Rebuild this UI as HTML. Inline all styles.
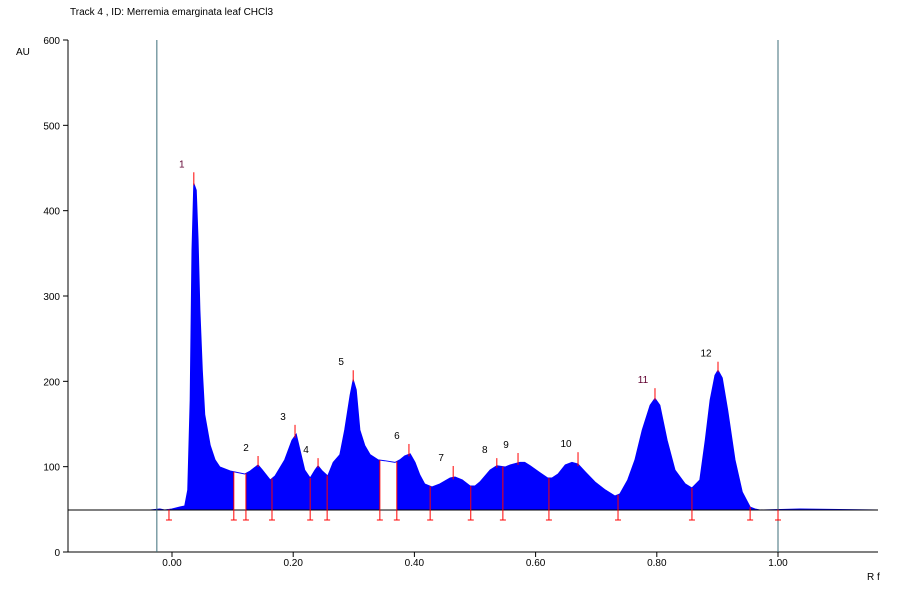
<!DOCTYPE html>
<html><head><meta charset="utf-8"><style>
body{margin:0;background:#fff;}
svg text{font-family:"Liberation Sans",sans-serif;font-size:10px;}
</style></head><body>
<svg id="c" width="907" height="590" xmlns="http://www.w3.org/2000/svg">
<text x="70" y="15">Track  4 , ID: Merremia emarginata leaf CHCl3</text>
<text x="16" y="55">AU</text>
<text x="867" y="580">R f</text>
<g id="g"></g>
</svg>
<script>
const traceRf=[-0.036,-0.020,-0.012,0,0.013,0.021,0.026,0.030,0.033,0.036,0.040,0.043,0.046,0.050,0.054,0.063,0.071,0.079,0.096,0.104,0.120,0.129,0.142,0.149,0.162,0.170,0.186,0.198,0.205,0.211,0.219,0.228,0.236,0.241,0.248,0.257,0.266,0.277,0.285,0.294,0.299,0.304,0.310,0.318,0.327,0.340,0.351,0.368,0.376,0.384,0.393,0.401,0.409,0.417,0.429,0.442,0.459,0.467,0.479,0.492,0.500,0.508,0.525,0.536,0.550,0.558,0.574,0.582,0.591,0.607,0.620,0.627,0.637,0.649,0.660,0.670,0.682,0.698,0.715,0.731,0.739,0.752,0.764,0.776,0.789,0.797,0.805,0.817,0.830,0.847,0.858,0.871,0.880,0.888,0.896,0.901,0.908,0.917,0.929,0.941,0.954,0.962,0.970,1.036,1.165];
const traceAU=[49.2,50.4,49.2,50.4,52.7,53.9,72.7,178,354,432,424,366,284,213,161,125,108,99.6,94.9,93.8,91.4,94.9,102,96.1,84.4,89.1,108,131,138,120,96.1,86.7,96.1,101,94.9,89.1,105,114,143,184,202,190,143,125,114,108,107,105,108,112.5,115,105,90.2,79.7,76.2,79.7,86.7,87.9,84.4,77.3,77.3,82,96.1,101,99.6,102,105,105,101,93,86.7,86.7,91.4,102,105,103,93.8,82,72.7,65.6,68,84.4,108,143,172,180,172,131,96.1,79.7,75,84.4,131,178,207,213,204,166,108,70.3,52.7,50.4,49.2,50.4,49.2];
const gapStart=[0.102,0.343];
const gapEnd=[0.122,0.371];
const peakRf=[0.036,0.142,0.203,0.241,0.299,0.391,0.464,0.536,0.571,0.670,0.797,0.901];
const peakAU=[445,112.5,149,110,213,126.6,100.8,110,116,117,192,223];
const peakLabels=["1","2","3","4","5","6","7","8","9","10","11","12"];
const boundRf=[-0.005,0.102,0.122,0.165,0.228,0.256,0.343,0.371,0.426,0.493,0.546,0.622,0.736,0.858,0.954,1.0];
const yTicks=[0,100,200,300,400,500,600];
const xTicks=[0,0.2,0.4,0.6,0.8,1.0];
const xTickLabels=["0.00","0.20","0.40","0.60","0.80","1.00"];
const baseAU=49.2;

const X=r=>172+r*606, Y=v=>552-v*512/600;
const g=document.getElementById('g'),NS="http://www.w3.org/2000/svg";
function mk(t,a){const e=document.createElementNS(NS,t);for(const k in a)e.setAttribute(k,a[k]);g.appendChild(e);return e;}
function interp(r){for(let i=1;i<traceRf.length;i++){if(traceRf[i]>=r){const t=(r-traceRf[i-1])/(traceRf[i]-traceRf[i-1]);return traceAU[i-1]+t*(traceAU[i]-traceAU[i-1]);}}return traceAU[traceAU.length-1];}
// fill
let d="M"+X(traceRf[0])+","+Y(baseAU);
traceRf.forEach((r,i)=>{d+=" L"+X(r)+","+Y(traceAU[i]);});
d+=" L"+X(traceRf[traceRf.length-1])+","+Y(baseAU)+"Z";
let f=mk('path',{d:d,fill:'#0000ff',stroke:'none'});


// gaps
gapStart.forEach((s,k)=>{const e=gapEnd[k];let p="M"+X(s)+","+Y(baseAU)+" L"+X(s)+","+Y(interp(s));
 traceRf.forEach((r,i)=>{if(r>s&&r<e)p+=" L"+X(r)+","+Y(traceAU[i]);});
 p+=" L"+X(e)+","+Y(interp(e))+" L"+X(e)+","+Y(baseAU)+"Z";
 const w=mk('path',{d:p,fill:'#fff'});
 
 });
let l="";traceRf.forEach((r,i)=>{l+=(i?" L":"M")+X(r)+","+Y(traceAU[i]);});
const tl=mk('path',{d:l,fill:'none',stroke:'#0000ff','stroke-width':1});


// axes
const ax=mk('line',{x1:68,y1:40,x2:68,y2:552,stroke:'#000'});


const bx=mk('line',{x1:68,y1:552,x2:878,y2:552,stroke:'#000'});


const bl=mk('line',{x1:68,y1:Y(baseAU),x2:878,y2:Y(baseAU),stroke:'#000'});


[-0.025,1.0].forEach(r=>{const v=mk('line',{x1:X(r),y1:40,x2:X(r),y2:552,stroke:'#3d6e7a'});
 
 });
yTicks.forEach(v=>{mk('line',{x1:63,y1:Y(v),x2:68,y2:Y(v),stroke:'#000'});
 const t=mk('text',{x:60,y:Y(v)+4,'text-anchor':'end'});t.textContent=v;
 
 });
xTicks.forEach((v,i)=>{mk('line',{x1:X(v),y1:552,x2:X(v),y2:557,stroke:'#000'});
 const t=mk('text',{x:X(v),y:566,'text-anchor':'middle'});t.textContent=xTickLabels[i];
 
 });
// boundaries
boundRf.forEach(r=>{const x=X(r),top=Math.min(Y(interp(r)),Y(baseAU));
 const p=mk('path',{d:"M"+x+","+top+" L"+x+",520 M"+(x-3)+",520 L"+(x+3)+",520",stroke:'#ff0000',fill:'none'});
 
 });
// peaks
peakRf.forEach((r,i)=>{const x=X(r);
 const t=mk('line',{x1:x,y1:Y(peakAU[i]),x2:x,y2:Y(interp(r))+2,stroke:'#ff0000'});
 
 
 const lb=mk('text',{x:x-12,y:Y(peakAU[i])-5,'text-anchor':'middle',fill:i==0||i==10?'#600030':'#000'});
 lb.textContent=peakLabels[i];
 
 });
</script>
</body></html>
